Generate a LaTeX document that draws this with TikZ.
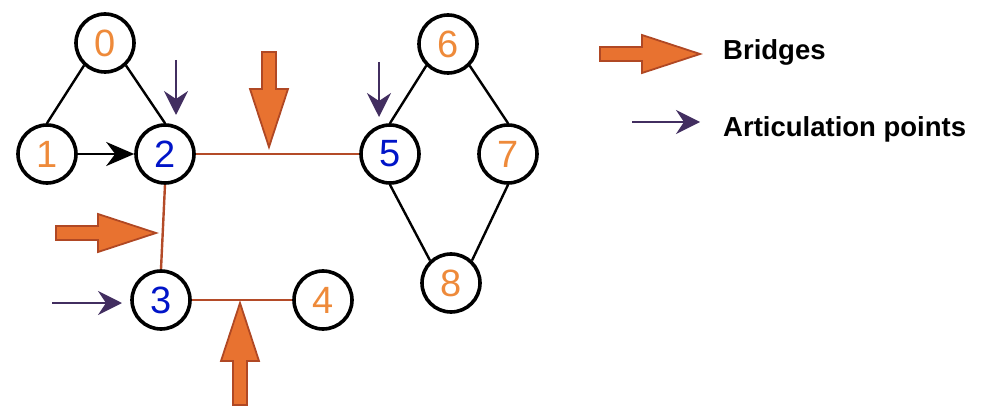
\documentclass[tikz,border=0pt]{standalone}
\usepackage{fontspec}
\setmainfont{Liberation Sans}
\usetikzlibrary{arrows.meta}

\definecolor{numorange}{RGB}{238,138,58}
\definecolor{numblue}{RGB}{0,20,200}
\definecolor{bridgeline}{RGB}{180,75,40}
\definecolor{bigfill}{RGB}{232,114,48}
\definecolor{bigedge}{RGB}{176,72,36}
\definecolor{articcol}{RGB}{66,46,96}

\tikzset{
  vtx/.style={circle, draw=black, line width=3.6pt, minimum size=58pt, inner sep=0pt,
    font=\fontsize{38}{38}\selectfont},
  orangenum/.style={vtx, text=numorange},
  bluenum/.style={vtx, text=numblue},
  plainedge/.style={draw=black, line width=2.4pt},
  bridgeedge/.style={draw=bridgeline, line width=2.4pt},
  directed/.style={draw=black, line width=2.8pt, -{Stealth[length=28pt,width=24pt,inset=9pt]}},
  articarrow/.style={draw=articcol, line width=2.4pt, -{Stealth[length=24pt,width=24pt,inset=8pt]}},
  legendtext/.style={anchor=base west, inner sep=0pt, font=\fontsize{27.5}{27.5}\selectfont\bfseries},
  arrowlen/.store in=\arrlen, arrowlen=98,
  bigarrow/.pic={
    \draw[fill=bigfill, draw=bigedge, line width=1.8pt, line join=miter]
      (0,0) -- (-58,19) -- (-58,7) -- (-\arrlen,7) -- (-\arrlen,-7)
      -- (-58,-7) -- (-58,-19) -- cycle;
  }
}

\begin{document}
\begin{tikzpicture}[x=1pt, y=-1pt]
  \useasboundingbox (0,0) rectangle (984,414);

  % vertices
  \node[orangenum] (n0) at (105,43)  {0};
  \node[orangenum] (n1) at (47,154)  {1};
  \node[bluenum]   (n2) at (165,154) {2};
  \node[bluenum]   (n3) at (161,300) {3};
  \node[orangenum] (n4) at (323,300) {4};
  \node[bluenum]   (n5) at (390,154) {5};
  \node[orangenum] (n6) at (448,44)  {6};
  \node[orangenum] (n7) at (508,154) {7};
  \node[orangenum] (n8) at (451,283) {8};

  % ordinary edges
  \draw[plainedge] (n0.227) -- (n1.north);
  \draw[plainedge] (n0.313) -- (n2.north);
  \draw[directed]  (n1.east) -- (n2.west);
  \draw[plainedge] (n5.north) -- (n6.225);
  \draw[plainedge] (n6.315) -- (n7.north);
  \draw[plainedge] (n5.south) -- (n8.133);
  \draw[plainedge] (n7.south) -- (n8.47);

  % bridges
  \draw[bridgeedge] (n2.east) -- (n5.west);
  \draw[bridgeedge] (n2.south) -- (n3.north);
  \draw[bridgeedge] (n3.east) -- (n4.west);

  % bridge markers
  \pic[rotate=-90, arrowlen=95] at (269,147) {bigarrow};
  \pic[arrowlen=100] at (156,233) {bigarrow};
  \pic[rotate=90, arrowlen=102] at (240,303) {bigarrow};

  % articulation point markers
  \coordinate (p2s) at (176,60);
  \coordinate (p2t) at (176,115);
  \coordinate (p5s) at (379,62);
  \coordinate (p5t) at (379,117);
  \coordinate (p3s) at (52,303);
  \coordinate (p3t) at (122,303);
  \draw[articarrow] (p2s) -- (p2t);
  \draw[articarrow] (p5s) -- (p5t);
  \draw[articarrow] (p3s) -- (p3t);

  % legend
  \pic[arrowlen=100] at (700,54) {bigarrow};
  \node[legendtext] (lgb) at (723,60) {Bridges};
  \coordinate (lgas) at (632,122);
  \coordinate (lgat) at (700,122);
  \draw[articarrow] (lgas) -- (lgat);
  \node[legendtext] (lga) at (723,137) {Articulation points};
\end{tikzpicture}
\end{document}
